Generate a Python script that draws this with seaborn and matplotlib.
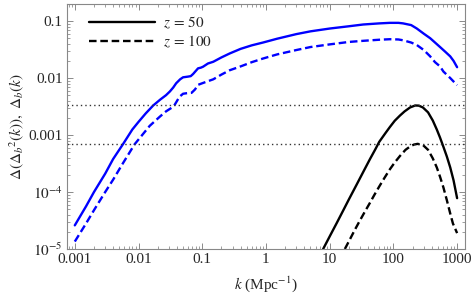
#!/usr/bin/env python3

import matplotlib
matplotlib.use("Agg")
import matplotlib.pyplot as plt
import pandas as pd
import seaborn as sns
from matplotlib.lines import Line2D
from matplotlib.ticker import FixedLocator, LogLocator, NullFormatter

# blue curves: Delta_b(k) at z=50 (solid) and z=100 (dashed)
k_b50 = [0.001, 0.0015, 0.002, 0.003, 0.004, 0.0057, 0.008, 0.01, 0.013, 0.017,
         0.022, 0.027, 0.031, 0.035, 0.039, 0.045, 0.05, 0.06, 0.066, 0.072,
         0.086, 0.095, 0.103, 0.123, 0.149, 0.2, 0.27, 0.4, 0.6, 0.9,
         1.5, 3.0, 5.0, 10.1, 20, 33.6, 60, 88, 120, 142,
         190, 233, 300, 378, 450, 540, 650, 780, 880, 1000]
d_b50 = [2.6e-5, 5.6e-5, 1.0e-4, 2.1e-4, 3.8e-4, 6.9e-4, 1.25e-3, 1.7e-3, 2.4e-3, 3.3e-3,
         4.2e-3, 5.0e-3, 5.8e-3, 6.8e-3, 8.1e-3, 9.5e-3, 1.03e-2, 1.06e-2, 1.08e-2, 1.18e-2,
         1.48e-2, 1.52e-2, 1.58e-2, 1.8e-2, 1.93e-2, 2.3e-2, 2.7e-2, 3.25e-2, 3.75e-2, 4.2e-2,
         4.9e-2, 5.9e-2, 6.6e-2, 7.4e-2, 8.1e-2, 8.7e-2, 9.1e-2, 9.3e-2, 9.3e-2, 9.1e-2,
         8.5e-2, 7.4e-2, 6.0e-2, 5.0e-2, 4.2e-2, 3.5e-2, 2.9e-2, 2.4e-2, 2.0e-2, 1.55e-2]

k_b100 = [0.001, 0.0015, 0.002, 0.003, 0.004, 0.0055, 0.0087, 0.011, 0.015, 0.0216,
          0.027, 0.033, 0.037, 0.044, 0.05, 0.056, 0.068, 0.077, 0.086, 0.1,
          0.116, 0.149, 0.2, 0.27, 0.4, 0.6, 0.9, 1.5, 3.0, 5.0,
          10.1, 20, 33.6, 60, 88, 120, 142, 190, 233, 300,
          378, 450, 540, 610, 780, 1000]
d_b100 = [1.35e-5, 2.8e-5, 4.8e-5, 1.0e-4, 1.65e-4, 3.0e-4, 6.9e-4, 9.5e-4, 1.45e-3, 2.1e-3,
          2.6e-3, 3.0e-3, 3.4e-3, 4.7e-3, 5.3e-3, 5.4e-3, 5.5e-3, 6.3e-3, 7.6e-3, 8.1e-3,
          8.6e-3, 9.5e-3, 1.15e-2, 1.37e-2, 1.6e-2, 1.9e-2, 2.2e-2, 2.6e-2, 3.1e-2, 3.5e-2,
          3.9e-2, 4.3e-2, 4.5e-2, 4.7e-2, 4.8e-2, 4.75e-2, 4.6e-2, 4.2e-2, 3.8e-2, 3.1e-2,
          2.4e-2, 1.9e-2, 1.6e-2, 1.3e-2, 1.0e-2, 7.5e-3]

# black curves: Delta(Delta_b^2(k)) at z=50 (solid) and z=100 (dashed)
k_e50 = [7.9, 10, 13, 16.4, 20, 26.7, 35, 43, 52, 60,
         75, 88, 105, 127, 150, 183, 220, 250, 290, 350,
         415, 480, 540, 610, 690, 780, 880, 1000]
d_e50 = [1.0e-5, 1.66e-5, 2.9e-5, 4.8e-5, 7.4e-5, 1.37e-4, 2.45e-4, 3.8e-4, 5.6e-4, 7.6e-4,
         1.08e-3, 1.38e-3, 1.78e-3, 2.2e-3, 2.6e-3, 3.05e-3, 3.3e-3, 3.28e-3, 3.05e-3, 2.5e-3,
         1.8e-3, 1.25e-3, 9.0e-4, 6.2e-4, 4.2e-4, 2.7e-4, 1.6e-4, 7.8e-5]

k_e100 = [17.3, 20, 25, 30, 36, 43, 50, 60, 72, 88,
          105, 127, 155, 183, 210, 240, 290, 350, 415, 480,
          540, 610, 690, 780, 860, 1000]
d_e100 = [1.0e-5, 1.36e-5, 2.2e-5, 3.2e-5, 4.6e-5, 6.5e-5, 8.8e-5, 1.25e-4, 1.75e-4, 2.5e-4,
          3.3e-4, 4.3e-4, 5.5e-4, 6.3e-4, 6.8e-4, 7.0e-4, 6.7e-4, 5.5e-4, 3.9e-4, 2.7e-4,
          1.85e-4, 1.2e-4, 7.2e-5, 4.2e-5, 2.8e-5, 1.9e-5]

# horizontal dotted reference levels (peak values)
h_levels = [3.3e-3, 6.9e-4]

x_ticks = [0.001, 0.01, 0.1, 1, 10, 100, 1000]
x_labels = ["0.001", "0.01", "0.1", "1", "10", "100", "1000"]
y_ticks = [1e-5, 1e-4, 1e-3, 1e-2, 1e-1]
y_labels = [r"$10^{-5}$", r"$10^{-4}$", "0.001", "0.01", "0.1"]

sns.set_style("ticks")
plt.rcParams["font.family"] = ["Liberation Serif", "DejaVu Serif"]
plt.rcParams["mathtext.fontset"] = "stix"
plt.rcParams["font.size"] = 11

fig = plt.figure(figsize=(4.74, 3.0), dpi=100)
ax = fig.add_axes([0.141, 0.17, 0.84, 0.817])

dash = (0, (3.2, 1.6))
frames = [
    (pd.DataFrame({"k": k_b50, "v": d_b50}), "#0000ff", "-"),
    (pd.DataFrame({"k": k_b100, "v": d_b100}), "#0000ff", dash),
    (pd.DataFrame({"k": k_e50, "v": d_e50}), "black", "-"),
    (pd.DataFrame({"k": k_e100, "v": d_e100}), "black", dash),
]
for df, color, ls in frames:
    sns.lineplot(data=df, x="k", y="v", ax=ax, color=color, linewidth=1.7,
                 linestyle=ls, estimator=None, sort=False)

for lvl in h_levels:
    ax.axhline(lvl, color="#333333", linestyle=(0, (1, 2.2)), linewidth=1.0)

ax.set_xscale("log")
ax.set_yscale("log")
ax.set_xlim(7.5e-4, 1.33e3)
ax.set_ylim(1e-5, 0.2)

ax.xaxis.set_major_locator(FixedLocator(x_ticks))
ax.set_xticklabels(x_labels)
ax.yaxis.set_major_locator(FixedLocator(y_ticks))
ax.set_yticklabels(y_labels)
ax.xaxis.set_minor_locator(LogLocator(base=10, subs=range(2, 10), numticks=20))
ax.yaxis.set_minor_locator(LogLocator(base=10, subs=range(2, 10), numticks=20))
ax.xaxis.set_minor_formatter(NullFormatter())
ax.yaxis.set_minor_formatter(NullFormatter())

ax.tick_params(which="both", direction="in", top=True, right=True, color="#777777",
               labelsize=11, pad=3)
ax.tick_params(which="major", length=4.5, width=0.6)
ax.tick_params(which="minor", length=2.5, width=0.5)
for sp in ax.spines.values():
    sp.set_color("#888888")
    sp.set_linewidth(0.8)

ax.set_xlabel(r"$k$ (Mpc$^{-1}$)", fontsize=11, labelpad=6)
ax.set_ylabel(r"$\Delta(\Delta_b{}^2(k)),\ \Delta_b(k)$", fontsize=11, labelpad=2)

handles = [
    Line2D([], [], color="black", linewidth=1.7, linestyle="-"),
    Line2D([], [], color="black", linewidth=1.7, linestyle=dash),
]
ax.legend(handles, [r"$z\,=\,50$", r"$z\,=\,100$"], loc="upper left", frameon=False,
          handlelength=4.3, handletextpad=0.5, borderaxespad=0.3, labelspacing=0.15,
          fontsize=11, bbox_to_anchor=(0.03, 1.0))

fig.savefig("out.png", dpi=100)
